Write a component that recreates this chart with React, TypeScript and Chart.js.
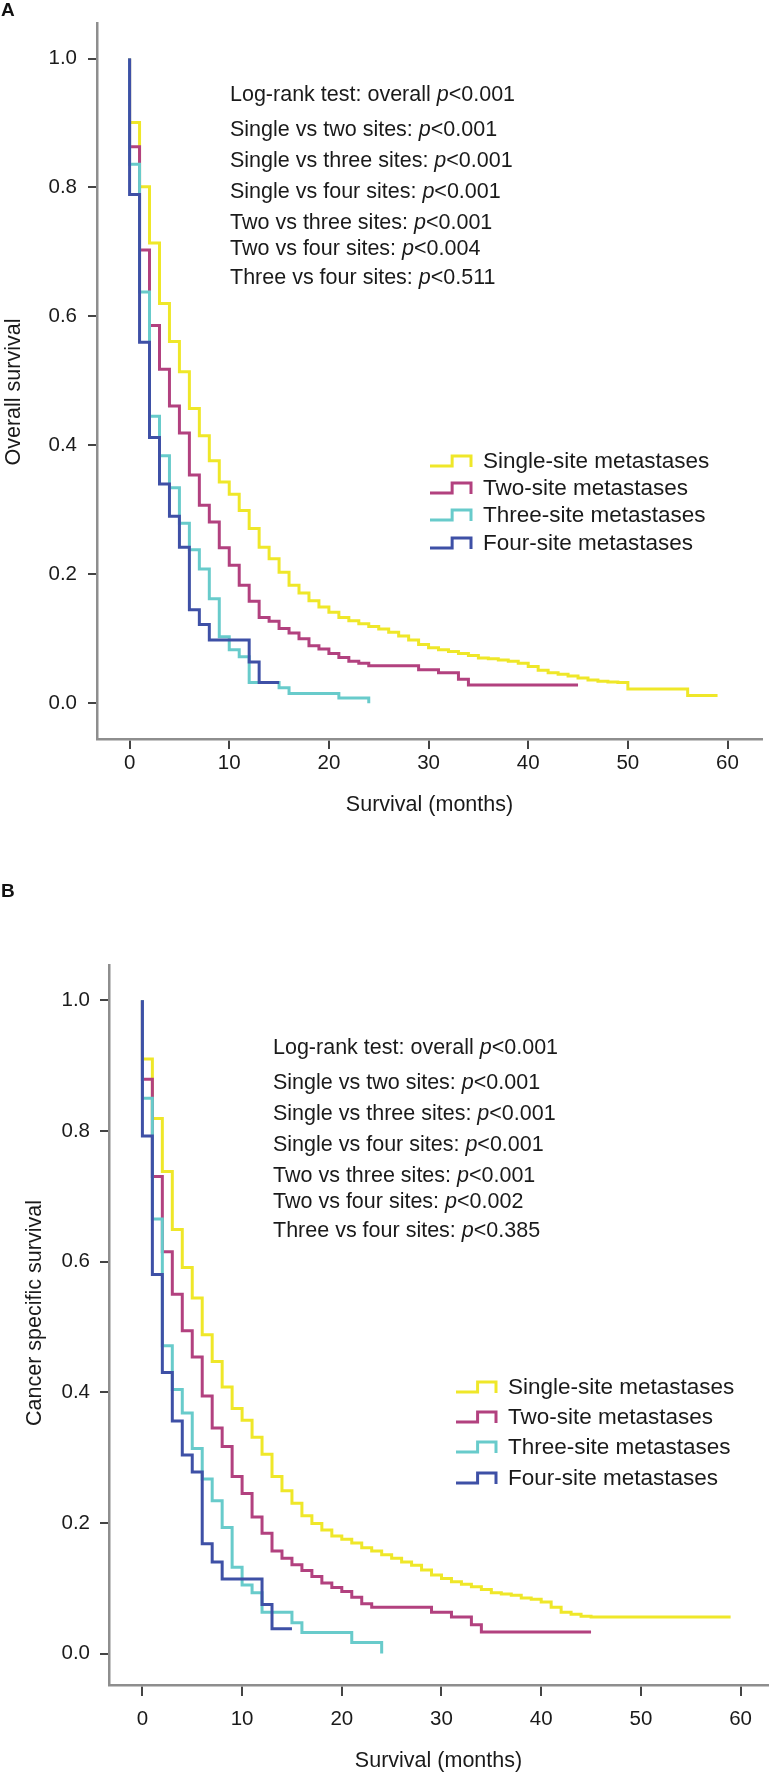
import React, { useEffect, useRef } from "react";
import { Chart, registerables } from "chart.js";
Chart.register(...registerables);

const FONT = "'Liberation Sans', Arial, Helvetica, sans-serif";
const TEXT = "#1a1a1a";
const ANN_SIZE = 21.5;
const LEG_SIZE = 22.5;
const TICK_SIZE = 20.5;
const TITLE_SIZE = 21.5;

const xTickValues = [0, 10, 20, 30, 40, 50, 60];
const yTickValues = [0, 0.2, 0.4, 0.6, 0.8, 1.0];

const seriesNames = ["Single-site metastases", "Two-site metastases", "Three-site metastases", "Four-site metastases"];
const seriesColors = ["#efe729", "#b2417f", "#68cbcb", "#3e50a6"];

const compLabels = [
  "Log-rank test: overall",
  "Single vs two sites:",
  "Single vs three sites:",
  "Single vs four sites:",
  "Two vs three sites:",
  "Two vs four sites:",
  "Three vs four sites:",
];
const pValuesA = ["<0.001", "<0.001", "<0.001", "<0.001", "<0.001", "<0.004", "<0.511"];
const pValuesB = ["<0.001", "<0.001", "<0.001", "<0.001", "<0.001", "<0.002", "<0.385"];

// Panel A: overall survival
const aSingleT = [0, 0, 1, 2, 3, 4, 5, 6, 7, 8, 9, 10, 11, 12, 13, 14, 15, 16, 17, 18, 19, 20, 21, 22, 23, 24, 25, 26, 27, 28, 29, 30, 31, 32, 33, 34, 35, 36, 37, 38, 39, 40, 41, 42, 43, 44, 45, 46, 47, 48, 49, 50, 56, 59];
const aSingleS = [1.0, 0.901, 0.801, 0.714, 0.62, 0.561, 0.514, 0.457, 0.415, 0.376, 0.343, 0.324, 0.299, 0.271, 0.242, 0.224, 0.203, 0.183, 0.171, 0.159, 0.149, 0.141, 0.133, 0.128, 0.123, 0.119, 0.115, 0.11, 0.104, 0.098, 0.091, 0.086, 0.083, 0.08, 0.077, 0.074, 0.07, 0.069, 0.067, 0.065, 0.062, 0.057, 0.051, 0.047, 0.045, 0.042, 0.039, 0.036, 0.034, 0.033, 0.032, 0.022, 0.012, 0.012];
const aTwoT = [0, 0, 1, 2, 3, 4, 5, 6, 7, 8, 9, 10, 11, 12, 13, 14, 15, 16, 17, 18, 19, 20, 21, 22, 23, 24, 29, 31, 33, 34, 45];
const aTwoS = [1.0, 0.863, 0.703, 0.586, 0.518, 0.461, 0.419, 0.354, 0.307, 0.281, 0.241, 0.214, 0.183, 0.158, 0.133, 0.127, 0.116, 0.109, 0.1, 0.089, 0.084, 0.077, 0.071, 0.065, 0.062, 0.058, 0.052, 0.047, 0.037, 0.028, 0.028];
const aThreeT = [0, 0, 1, 2, 3, 4, 5, 6, 7, 8, 9, 10, 11, 12, 15, 16, 21, 24];
const aThreeS = [1.0, 0.836, 0.638, 0.445, 0.384, 0.334, 0.279, 0.238, 0.208, 0.162, 0.103, 0.083, 0.072, 0.032, 0.024, 0.015, 0.008, 0.0];
const aFourT = [0, 0, 1, 2, 3, 4, 5, 6, 7, 8, 12, 13, 15];
const aFourS = [1.0, 0.789, 0.56, 0.412, 0.34, 0.29, 0.242, 0.145, 0.122, 0.098, 0.064, 0.032, 0.032];

// Panel B: cancer specific survival
const bSingleT = [0, 0, 1, 2, 3, 4, 5, 6, 7, 8, 9, 10, 11, 12, 13, 14, 15, 16, 17, 18, 19, 20, 21, 22, 23, 24, 25, 26, 27, 28, 29, 30, 31, 32, 33, 34, 35, 36, 37, 38, 39, 40, 41, 42, 43, 44, 45, 59];
const bSingleS = [1.0, 0.91, 0.819, 0.738, 0.649, 0.591, 0.544, 0.488, 0.447, 0.408, 0.375, 0.357, 0.331, 0.305, 0.271, 0.249, 0.23, 0.211, 0.199, 0.189, 0.18, 0.175, 0.169, 0.162, 0.157, 0.151, 0.146, 0.14, 0.135, 0.128, 0.12, 0.115, 0.11, 0.106, 0.102, 0.098, 0.093, 0.091, 0.089, 0.085, 0.083, 0.079, 0.071, 0.063, 0.06, 0.057, 0.056, 0.056];
const bTwoT = [0, 0, 1, 2, 3, 4, 5, 6, 7, 8, 9, 10, 11, 12, 13, 14, 15, 16, 17, 18, 19, 20, 21, 22, 23, 29, 31, 33, 34, 45];
const bTwoS = [1.0, 0.879, 0.73, 0.615, 0.55, 0.494, 0.454, 0.394, 0.345, 0.317, 0.271, 0.245, 0.209, 0.184, 0.157, 0.146, 0.136, 0.127, 0.118, 0.108, 0.101, 0.095, 0.086, 0.076, 0.071, 0.063, 0.056, 0.044, 0.033, 0.033];
const bThreeT = [0, 0, 1, 2, 3, 4, 5, 6, 7, 8, 9, 10, 11, 12, 15, 16, 21, 24];
const bThreeS = [1.0, 0.85, 0.665, 0.471, 0.404, 0.368, 0.314, 0.267, 0.234, 0.193, 0.132, 0.105, 0.093, 0.063, 0.047, 0.032, 0.017, 0.0];
const bFourT = [0, 0, 1, 2, 3, 4, 5, 6, 7, 8, 12, 13, 15];
const bFourS = [1.0, 0.792, 0.58, 0.43, 0.356, 0.304, 0.278, 0.168, 0.14, 0.114, 0.075, 0.038, 0.038];

type Panel = {
  letter: string;
  letterY: number;
  yTitle: string;
  yTitleX: number;
  yTitleY: number;
  height: number;
  padTop: number;
  padRight: number;
  yAxisWidth: number;
  xAxisHeight: number;
  xMin: number;
  xMax: number;
  yMin: number;
  yMax: number;
  yTickLen: number;
  yTickPad: number;
  xTickLen: number;
  xTickPad: number;
  xTitlePadBottom: number;
  series: { t: number[]; s: number[] }[];
  pValues: string[];
  annX: number;
  annY: number[];
  legSymX: number;
  legSymW: number;
  legTextX: number;
  legY: number[];
};

const panelA: Panel = {
  letter: "A",
  letterY: 16,
  yTitle: "Overall survival",
  yTitleX: 14,
  yTitleY: 392,
  height: 850,
  padTop: 8,
  padRight: 8,
  yAxisWidth: 97,
  xAxisHeight: 111,
  xMin: -3.27,
  xMax: 63.46,
  yMin: -0.0556,
  yMax: 1.0547,
  yTickLen: 9,
  yTickPad: 11,
  xTickLen: 10,
  xTickPad: 2,
  xTitlePadBottom: 32,
  series: [
    { t: aSingleT, s: aSingleS },
    { t: aTwoT, s: aTwoS },
    { t: aThreeT, s: aThreeS },
    { t: aFourT, s: aFourS },
  ],
  pValues: pValuesA,
  annX: 230,
  annY: [95, 130, 161, 192, 223, 249, 278],
  legSymX: 430,
  legSymW: 41,
  legTextX: 483,
  legY: [462, 489, 516, 544],
};

const panelB: Panel = {
  letter: "B",
  letterY: 47,
  yTitle: "Cancer specific survival",
  yTitleX: 35,
  yTitleY: 463,
  height: 926,
  padTop: 115,
  padRight: 2,
  yAxisWidth: 109,
  xAxisHeight: 91,
  xMin: -3.35,
  xMax: 62.75,
  yMin: -0.0482,
  yMax: 1.0539,
  yTickLen: 9,
  yTickPad: 10,
  xTickLen: 11,
  xTickPad: 11,
  xTitlePadBottom: 2,
  series: [
    { t: bSingleT, s: bSingleS },
    { t: bTwoT, s: bTwoS },
    { t: bThreeT, s: bThreeS },
    { t: bFourT, s: bFourS },
  ],
  pValues: pValuesB,
  annX: 273,
  annY: [198, 233, 264, 295, 326, 352, 381],
  legSymX: 456,
  legSymW: 40,
  legTextX: 508,
  legY: [538, 568, 598, 629],
};

function overlayPlugin(p: Panel) {
  return {
    id: "overlay" + p.letter,
    afterDraw(chart: any) {
      const ctx = chart.ctx as CanvasRenderingContext2D;
      ctx.save();
      // panel letter
      ctx.fillStyle = "#111";
      ctx.font = `bold 19px ${FONT}`;
      ctx.textAlign = "left";
      ctx.textBaseline = "alphabetic";
      ctx.fillText(p.letter, 1, p.letterY);

      // y title
      ctx.save();
      ctx.translate(p.yTitleX, p.yTitleY);
      ctx.rotate(-Math.PI / 2);
      ctx.font = `${TITLE_SIZE}px ${FONT}`;
      ctx.fillStyle = TEXT;
      ctx.textAlign = "center";
      ctx.textBaseline = "middle";
      ctx.fillText(p.yTitle, 0, 0);
      ctx.restore();

      // annotations
      ctx.textBaseline = "middle";
      ctx.textAlign = "left";
      ctx.fillStyle = TEXT;
      compLabels.forEach((lab, i) => {
        const y = p.annY[i];
        let x = p.annX;
        ctx.font = `${ANN_SIZE}px ${FONT}`;
        const pre = lab + " ";
        ctx.fillText(pre, x, y);
        x += ctx.measureText(pre).width;
        ctx.font = `italic ${ANN_SIZE}px ${FONT}`;
        ctx.fillText("p", x, y);
        x += ctx.measureText("p").width;
        ctx.font = `${ANN_SIZE}px ${FONT}`;
        ctx.fillText(p.pValues[i], x, y);
      });

      // legend
      seriesNames.forEach((name, i) => {
        const cy = p.legY[i];
        const x0 = p.legSymX;
        const w = p.legSymW;
        ctx.strokeStyle = seriesColors[i];
        ctx.lineWidth = 3;
        ctx.lineJoin = "miter";
        ctx.lineCap = "butt";
        ctx.beginPath();
        ctx.moveTo(x0, cy + 4);
        ctx.lineTo(x0 + w * 0.54, cy + 4);
        ctx.lineTo(x0 + w * 0.54, cy - 6);
        ctx.lineTo(x0 + w, cy - 6);
        ctx.lineTo(x0 + w, cy + 5);
        ctx.stroke();
        ctx.fillStyle = TEXT;
        ctx.font = `${LEG_SIZE}px ${FONT}`;
        ctx.textBaseline = "middle";
        ctx.fillText(name, p.legTextX, cy);
      });
      ctx.restore();
    },
  };
}

function makeConfig(p: Panel): any {
  return {
    type: "line",
    data: {
      datasets: p.series.map((sr, i) => ({
        label: seriesNames[i],
        data: sr.t.map((t, k) => ({ x: t, y: sr.s[k] })),
        borderColor: seriesColors[i],
        backgroundColor: seriesColors[i],
        borderWidth: 3,
        pointRadius: 0,
        pointHoverRadius: 0,
        fill: false,
        stepped: true,
        tension: 0,
        borderCapStyle: "butt",
        borderJoinStyle: "miter",
        order: 3 - i,
      })),
    },
    options: {
      animation: false,
      responsive: false,
      devicePixelRatio: 1,
      events: [],
      layout: { padding: { top: p.padTop, right: p.padRight, left: 0, bottom: 0 } },
      plugins: {
        legend: { display: false },
        tooltip: { enabled: false },
        title: { display: false },
      },
      scales: {
        x: {
          type: "linear",
          min: p.xMin,
          max: p.xMax,
          afterBuildTicks: (s: any) => {
            s.ticks = xTickValues.map((v) => ({ value: v }));
          },
          afterFit: (s: any) => {
            s.height = p.xAxisHeight;
          },
          grid: {
            drawOnChartArea: false,
            drawTicks: true,
            tickLength: p.xTickLen,
            color: "#444",
            lineWidth: 2,
          },
          border: { display: true, color: "#8e8e8e", width: 2.5 },
          ticks: {
            autoSkip: false,
            maxRotation: 0,
            padding: p.xTickPad,
            color: TEXT,
            font: { family: FONT, size: TICK_SIZE },
            callback: (v: any) => String(v),
          },
          title: {
            display: true,
            text: "Survival (months)",
            color: TEXT,
            font: { family: FONT, size: TITLE_SIZE },
            padding: { top: 0, bottom: p.xTitlePadBottom },
          },
        },
        y: {
          type: "linear",
          min: p.yMin,
          max: p.yMax,
          afterBuildTicks: (s: any) => {
            s.ticks = yTickValues.map((v) => ({ value: v }));
          },
          afterFit: (s: any) => {
            s.width = p.yAxisWidth;
          },
          grid: {
            drawOnChartArea: false,
            drawTicks: true,
            tickLength: p.yTickLen,
            color: "#444",
            lineWidth: 2,
          },
          border: { display: true, color: "#8e8e8e", width: 2.5 },
          ticks: {
            autoSkip: false,
            padding: p.yTickPad,
            color: TEXT,
            font: { family: FONT, size: TICK_SIZE },
            callback: (v: any) => Number(v).toFixed(1),
          },
          title: { display: false },
        },
      },
    },
    plugins: [overlayPlugin(p)],
  };
}

function ChartPanel({ panel, top }: { panel: Panel; top: number }) {
  const ref = useRef<HTMLCanvasElement | null>(null);
  useEffect(() => {
    if (!ref.current) return;
    const chart = new Chart(ref.current, makeConfig(panel));
    return () => chart.destroy();
  }, [panel]);
  return (
    <canvas
      ref={ref}
      width={770}
      height={panel.height}
      style={{ position: "absolute", left: 0, top, width: 770, height: panel.height, display: "block" }}
    />
  );
}

export default function App() {
  useEffect(() => {
    document.body.style.margin = "0";
    document.body.style.background = "#ffffff";
  }, []);
  return (
    <div style={{ position: "absolute", left: 0, top: 0, width: 770, height: 1776, background: "#ffffff", overflow: "hidden" }}>
      <ChartPanel panel={panelA} top={0} />
      <ChartPanel panel={panelB} top={850} />
    </div>
  );
}
